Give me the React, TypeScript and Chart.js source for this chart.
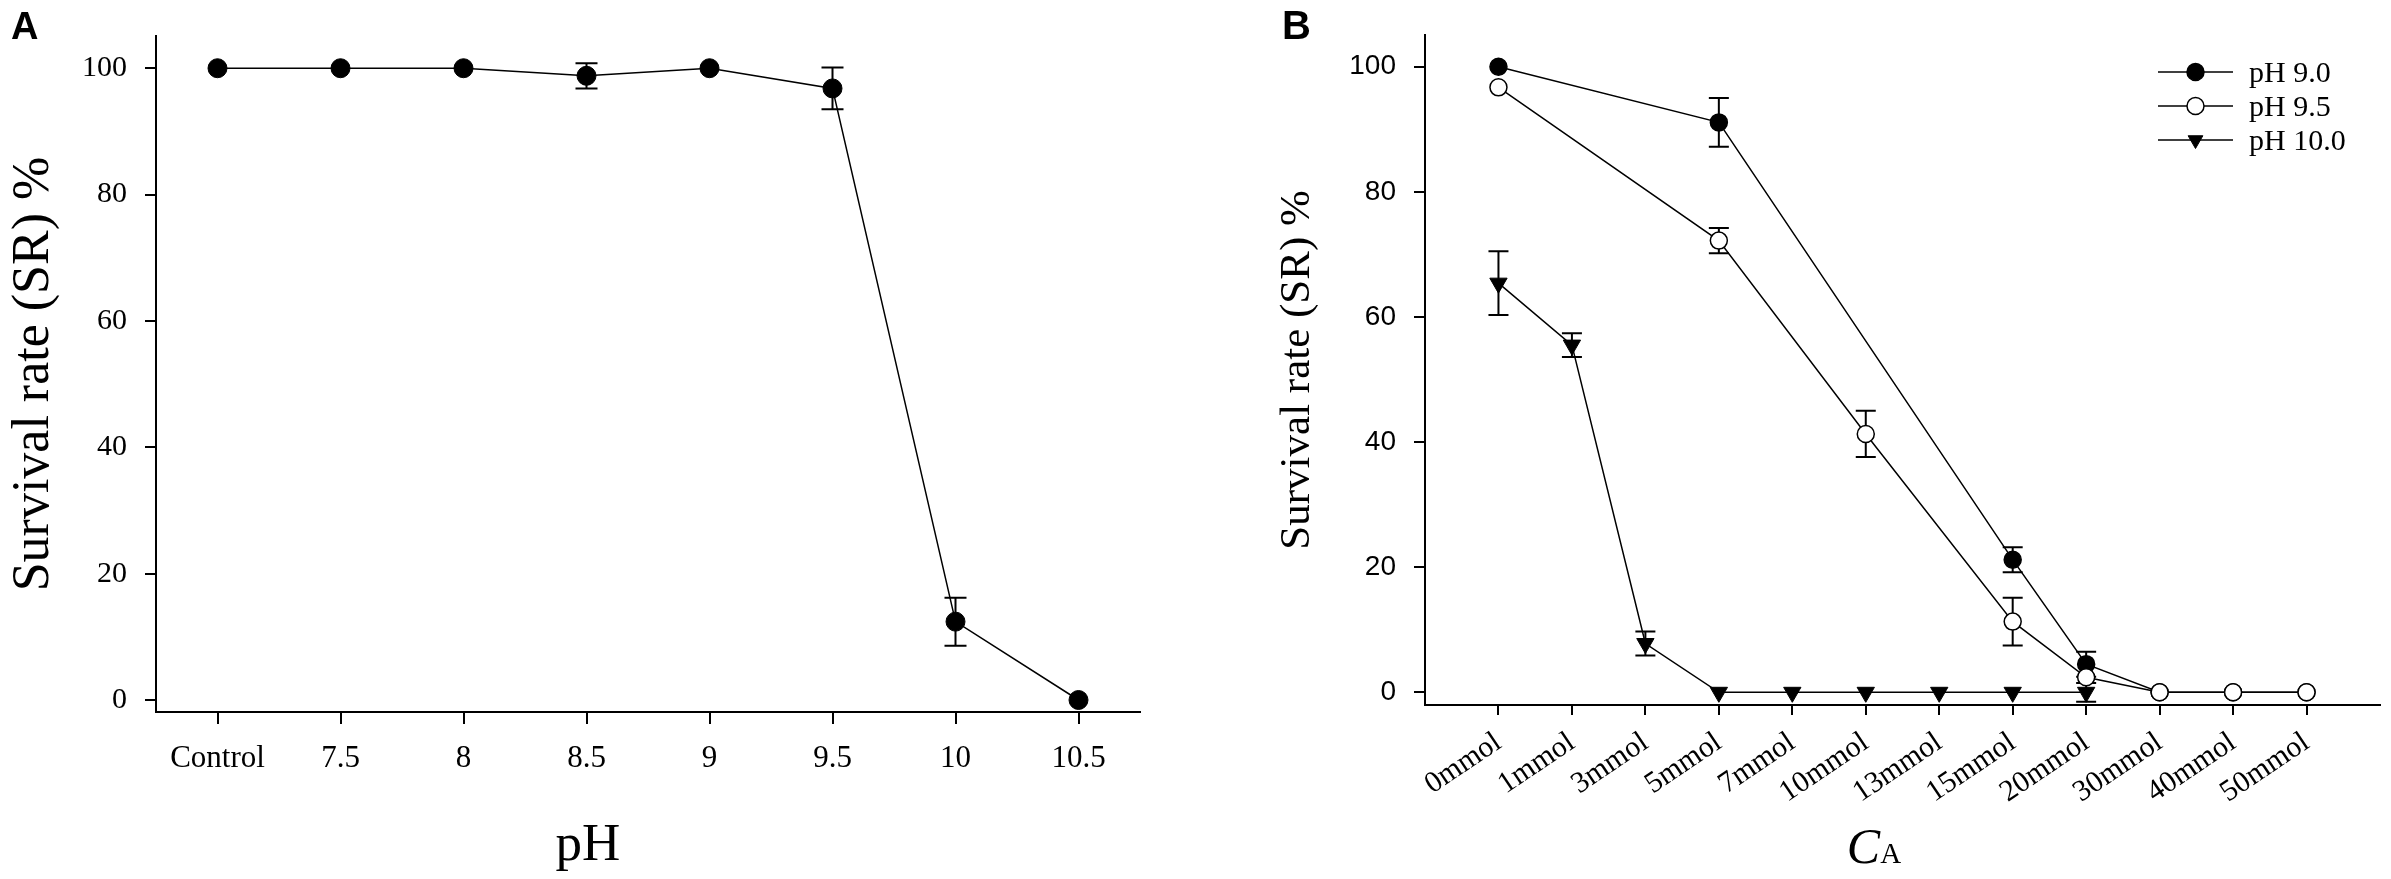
import React, { useEffect, useRef } from 'react';
import { Chart, registerables } from 'chart.js';
import { drawPoint } from 'chart.js/helpers';

Chart.register(...registerables);

// 图A：不同 pH 下的存活率
const phLabels = ['Control', '7.5', '8', '8.5', '9', '9.5', '10', '10.5'];
const phSurvival = [100, 100, 100, 98.8, 100, 96.8, 12.4, 0];
const phError = [0, 0, 0, 2, 0, 3.3, 3.8, 0];

// 图B：不同 CA 浓度下的存活率
const caLabels = ['0mmol', '1mmol', '3mmol', '5mmol', '7mmol', '10mmol', '13mmol', '15mmol', '20mmol', '30mmol', '40mmol', '50mmol'];
const ph90Survival = [100, null, null, 91.1, null, null, null, 21.2, 4.5, 0, 0, 0];
const ph90Error = [0, null, null, 3.9, null, null, null, 2, 2, 0, 0, 0];
const ph95Survival = [96.7, null, null, 72.2, null, 41.3, null, 11.3, 2.4, 0, 0, 0];
const ph95Error = [0, null, null, 2, null, 3.7, null, 3.8, 0, 0, 0, 0];
const ph100Survival = [65.4, 55.5, 7.8, 0, 0, 0, 0, 0, 0, null, null, null];
const ph100Error = [5.1, 1.9, 1.9, 0, 0, 0, 0, 0, 1.5, null, null, null];
const seriesNames = ['pH 9.0', 'pH 9.5', 'pH 10.0'];

const yTicks = [0, 20, 40, 60, 80, 100];

const SERIF = '"Liberation Serif", "Times New Roman", serif';
const SANS = '"Liberation Sans", Arial, sans-serif';

const toPoints = (vals: (number | null)[]) =>
  vals.map((v, i) => (v == null ? null : { x: i, y: v })).filter(Boolean) as { x: number; y: number }[];

// 误差线插件
const errorBars = {
  id: 'errorBars',
  beforeDatasetsDraw(chart: any, _args: any, opts: any) {
    const { ctx } = chart;
    const xs = chart.scales.x;
    const ys = chart.scales.y;
    const cap = opts.cap ?? 10;
    ctx.save();
    ctx.strokeStyle = '#000';
    ctx.lineWidth = opts.width ?? 2;
    chart.data.datasets.forEach((ds: any) => {
      const errs = ds.errors;
      if (!errs) return;
      ds.data.forEach((p: any) => {
        const e = errs[p.x];
        if (!e) return;
        const px = xs.getPixelForValue(p.x);
        const top = ys.getPixelForValue(p.y + e);
        const bot = ys.getPixelForValue(p.y - e);
        ctx.beginPath();
        ctx.moveTo(px, top);
        ctx.lineTo(px, bot);
        ctx.moveTo(px - cap, top);
        ctx.lineTo(px + cap, top);
        ctx.moveTo(px - cap, bot);
        ctx.lineTo(px + cap, bot);
        ctx.stroke();
      });
    });
    ctx.restore();
  },
};

// 自由文字（面板字母、x轴标题）
const panelText = {
  id: 'panelText',
  afterDraw(chart: any, _args: any, opts: any) {
    const { ctx } = chart;
    (opts.items || []).forEach((item: any) => {
      ctx.save();
      ctx.fillStyle = '#000';
      ctx.textBaseline = 'alphabetic';
      ctx.textAlign = 'left';
      const widths = item.runs.map((r: any) => {
        ctx.font = r.font;
        return ctx.measureText(r.text).width;
      });
      const total = widths.reduce((a: number, b: number) => a + b, 0);
      let x = item.align === 'center' ? item.x - total / 2 : item.x;
      item.runs.forEach((r: any, i: number) => {
        ctx.font = r.font;
        ctx.fillText(r.text, x, item.y);
        x += widths[i];
      });
      ctx.restore();
    });
  },
};

// 线+标记的图例
const lineLegend = {
  id: 'lineLegend',
  afterDraw(chart: any, _args: any, opts: any) {
    if (!opts.display) return;
    const { ctx } = chart;
    chart.data.datasets.forEach((ds: any, i: number) => {
      const y = opts.y + i * opts.rowGap;
      ctx.save();
      ctx.strokeStyle = '#000';
      ctx.lineWidth = ds.borderWidth;
      ctx.beginPath();
      ctx.moveTo(opts.x, y);
      ctx.lineTo(opts.x + opts.lineLength, y);
      ctx.stroke();
      ctx.fillStyle = ds.pointBackgroundColor;
      ctx.strokeStyle = ds.pointBorderColor;
      ctx.lineWidth = ds.pointBorderWidth;
      drawPoint(ctx, {
        pointStyle: ds.pointStyle,
        rotation: ds.pointRotation || 0,
        radius: opts.radius,
        borderWidth: ds.pointBorderWidth,
      } as any, opts.x + opts.lineLength / 2, y);
      ctx.fillStyle = '#000';
      ctx.font = opts.font;
      ctx.textBaseline = 'middle';
      ctx.textAlign = 'left';
      ctx.fillText(ds.label, opts.x + opts.lineLength + opts.textGap, y + 2);
      ctx.restore();
    });
  },
};

const axisLine = { display: true, color: '#000', width: 2 };

const yAxis = (min: number, tickFont: any, titleSize: number, titlePad: number, width: number) => ({
  type: 'linear',
  min,
  max: 105.1,
  afterBuildTicks: (s: any) => {
    s.ticks = yTicks.map(v => ({ value: v }));
  },
  afterFit: (s: any) => {
    s.width = width;
  },
  ticks: { color: '#000', font: tickFont, padding: 18, autoSkip: false },
  grid: { drawOnChartArea: false, drawTicks: true, tickLength: 11, lineWidth: 2, color: '#000' },
  border: axisLine,
  title: {
    display: true,
    text: 'Survival rate (SR) %',
    color: '#000',
    font: { family: SERIF, size: titleSize },
    padding: { top: titlePad, bottom: 0 },
  },
});

const buildPhChart = (ctx: CanvasRenderingContext2D) =>
  new Chart(ctx, {
    type: 'line',
    data: {
      datasets: [
        {
          label: 'SR',
          data: toPoints(phSurvival),
          errors: phError,
          borderColor: '#000',
          borderWidth: 1.5,
          pointStyle: 'circle',
          pointRadius: 9.5,
          pointBackgroundColor: '#000',
          pointBorderColor: '#000',
          pointBorderWidth: 1,
        } as any,
      ],
    },
    options: {
      responsive: false,
      animation: false,
      events: [],
      layout: { padding: { left: 0, top: 7, right: 55, bottom: 0 } },
      scales: {
        x: {
          type: 'linear',
          min: -0.5,
          max: 7.5,
          afterBuildTicks: (s: any) => {
            s.ticks = phLabels.map((_, i) => ({ value: i }));
          },
          afterFit: (s: any) => {
            s.height = 167;
          },
          ticks: {
            color: '#000',
            font: { family: SERIF, size: 31 },
            padding: 16,
            maxRotation: 0,
            autoSkip: false,
            callback: (v: any) => phLabels[v] ?? '',
          },
          grid: { drawOnChartArea: false, drawTicks: true, tickLength: 12, lineWidth: 2, color: '#000' },
          border: axisLine,
        },
        y: yAxis(-1.9, { family: SERIF, size: 30 }, 52, 3, 156) as any,
      },
      plugins: {
        legend: { display: false },
        tooltip: { enabled: false },
        errorBars: { cap: 11, width: 2 },
        panelText: {
          items: [
            { x: 11, y: 39, runs: [{ text: 'A', font: `bold 38px ${SANS}` }] },
            { x: 588, y: 860, align: 'center', runs: [{ text: 'pH', font: `53px ${SERIF}` }] },
          ],
        },
      } as any,
    },
    plugins: [errorBars, panelText],
  });

const buildCaChart = (ctx: CanvasRenderingContext2D) =>
  new Chart(ctx, {
    type: 'line',
    data: {
      datasets: [
        {
          label: seriesNames[0],
          data: toPoints(ph90Survival),
          errors: ph90Error,
          order: 1,
          borderColor: '#000',
          borderWidth: 1.5,
          pointStyle: 'circle',
          pointRadius: 8.5,
          pointBackgroundColor: '#000',
          pointBorderColor: '#000',
          pointBorderWidth: 1.5,
        },
        {
          label: seriesNames[1],
          data: toPoints(ph95Survival),
          errors: ph95Error,
          order: 0,
          borderColor: '#000',
          borderWidth: 1.5,
          pointStyle: 'circle',
          pointRadius: 8.5,
          pointBackgroundColor: '#fff',
          pointBorderColor: '#000',
          pointBorderWidth: 1.5,
        },
        {
          label: seriesNames[2],
          data: toPoints(ph100Survival),
          errors: ph100Error,
          order: 2,
          borderColor: '#000',
          borderWidth: 1.5,
          pointStyle: 'triangle',
          pointRotation: 180,
          pointRadius: 10,
          pointBackgroundColor: '#000',
          pointBorderColor: '#000',
          pointBorderWidth: 1,
        },
      ] as any,
    },
    options: {
      responsive: false,
      animation: false,
      events: [],
      layout: { padding: { left: 0, top: 18, right: 8, bottom: 0 } },
      scales: {
        x: {
          type: 'linear',
          min: -1,
          max: 12,
          afterBuildTicks: (s: any) => {
            s.ticks = caLabels.map((_, i) => ({ value: i }));
          },
          afterFit: (s: any) => {
            s.height = 174;
          },
          ticks: {
            color: '#000',
            font: { family: SERIF, size: 30 },
            padding: 10,
            minRotation: 34,
            maxRotation: 34,
            autoSkip: false,
            callback: (v: any) => caLabels[v] ?? '',
          },
          grid: { drawOnChartArea: false, drawTicks: true, tickLength: 10, lineWidth: 2, color: '#000' },
          border: axisLine,
        },
        y: yAxis(-2.03, { family: SANS, size: 28 }, 43, 77, 230) as any,
      },
      plugins: {
        legend: { display: false },
        tooltip: { enabled: false },
        errorBars: { cap: 10, width: 2 },
        lineLegend: {
          display: true,
          x: 963,
          y: 72,
          rowGap: 34,
          lineLength: 75,
          textGap: 16,
          radius: 8.5,
          font: `30px ${SERIF}`,
        },
        panelText: {
          items: [
            { x: 87, y: 39, runs: [{ text: 'B', font: `bold 40px ${SANS}` }] },
            {
              x: 679,
              y: 863,
              align: 'center',
              runs: [
                { text: 'C', font: `italic 50px ${SERIF}` },
                { text: 'A', font: `29px ${SERIF}` },
              ],
            },
          ],
        },
      } as any,
    },
    plugins: [errorBars, lineLegend, panelText],
  });

interface PanelProps {
  left: number;
  width: number;
  height: number;
  build: (ctx: CanvasRenderingContext2D) => Chart;
}

const Panel: React.FC<PanelProps> = ({ left, width, height, build }) => {
  const canvasRef = useRef<HTMLCanvasElement>(null);

  useEffect(() => {
    const ctx = canvasRef.current?.getContext('2d');
    if (!ctx) return;
    const chart = build(ctx);
    return () => chart.destroy();
  }, [build]);

  return (
    <canvas
      ref={canvasRef}
      width={width}
      height={height}
      style={{ position: 'absolute', left, top: 0, width, height, display: 'block' }}
    />
  );
};

export default function App() {
  useEffect(() => {
    document.body.style.margin = '0';
  }, []);

  return (
    <div style={{ position: 'relative', width: 2391, height: 879, background: '#fff', overflow: 'hidden' }}>
      <Panel left={0} width={1195} height={879} build={buildPhChart} />
      <Panel left={1195} width={1196} height={879} build={buildCaChart} />
    </div>
  );
}
